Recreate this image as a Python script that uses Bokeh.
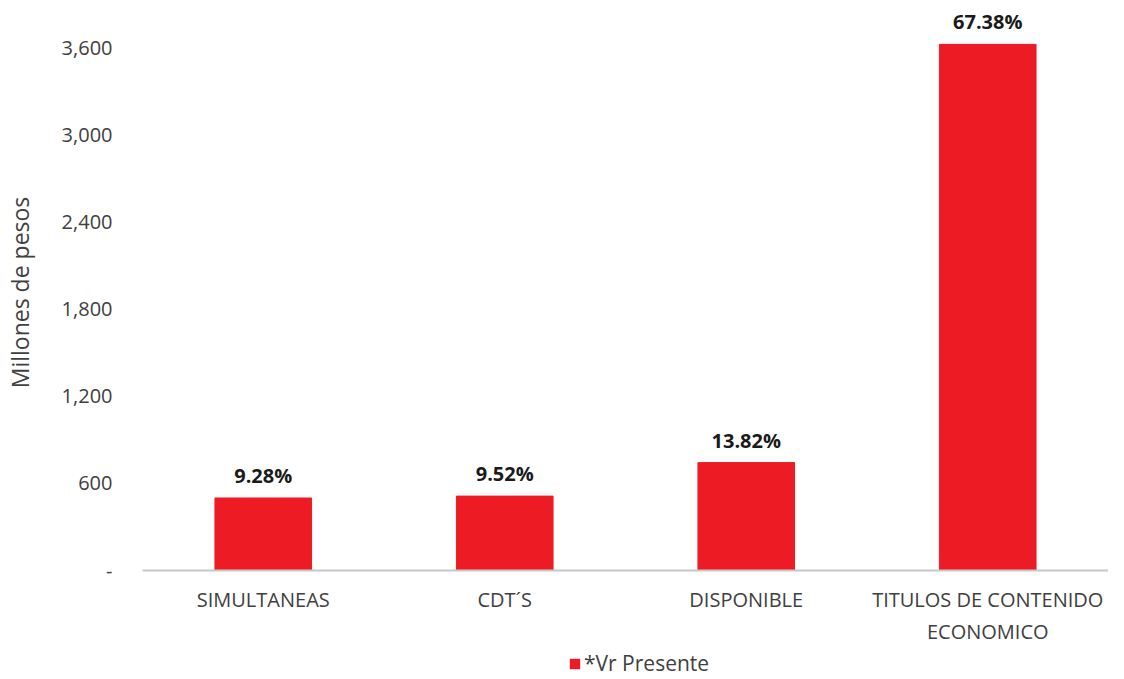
from bokeh.plotting import figure
from bokeh.layouts import column
from bokeh.models import (ColumnDataSource, FixedTicker, NumeralTickFormatter,
                          LabelSet, Legend, LegendItem)
from bokeh.core.properties import value
from bokeh.embed import file_html
from bokeh.resources import INLINE

categories = ["SIMULTANEAS", "CDT´S", "DISPONIBLE", "TITULOS DE CONTENIDO\nECONOMICO"]
values = [500, 513, 744, 3628]
pct_labels = ["9.28%", "9.52%", "13.82%", "67.38%"]
y_ticks = [0, 600, 1200, 1800, 2400, 3000, 3600]
series_name = "*Vr Presente"

RED = "#ED1C24"
FONT = "Open Sans"
GRAY = "#404040"
W = 1108

src = ColumnDataSource(dict(cat=categories, val=values, lab=pct_labels))

p = figure(x_range=categories, y_range=(0, 3834), width=W, height=647,
           output_backend="svg", toolbar_location=None,
           min_border_left=135, min_border_right=0, min_border_top=14,
           min_border_bottom=77)
p.outline_line_color = None
p.xgrid.grid_line_color = None
p.ygrid.grid_line_color = None
p.x_range.range_padding = 0

r = p.vbar(x="cat", top="val", width=0.40, source=src, fill_color=RED,
           line_color=RED)

labels = LabelSet(x="cat", y="val", text="lab", source=src, text_align="center",
                  text_baseline="bottom", y_offset=9, text_font=value(FONT),
                  text_font_style="bold", text_font_size="20px",
                  text_color="#1a1a1a")
p.add_layout(labels)

yax = p.yaxis[0]
yax.ticker = FixedTicker(ticks=y_ticks)
yax.formatter = NumeralTickFormatter(format="0,0")
yax.major_label_overrides = {0: "-"}
yax.axis_line_color = None
yax.major_tick_line_color = None
yax.minor_tick_line_color = None
yax.major_label_text_font = FONT
yax.major_label_text_font_size = "20px"
yax.major_label_text_color = GRAY
yax.major_label_standoff = 24
yax.axis_label = "Millones de pesos"
yax.axis_label_text_font = FONT
yax.axis_label_text_font_style = "normal"
yax.axis_label_text_font_size = "23px"
yax.axis_label_text_color = GRAY
yax.axis_label_standoff = 23

xax = p.xaxis[0]
xax.axis_line_color = "#c8c8c8"
xax.axis_line_width = 2
xax.major_tick_line_color = None
xax.minor_tick_line_color = None
xax.major_label_text_font = FONT
xax.major_label_text_font_size = "20px"
xax.major_label_text_color = GRAY
xax.major_label_standoff = 9

# legend strip below the chart
leg = figure(width=W, height=30, x_range=(0, 1), y_range=(0, 1),
             output_backend="svg", toolbar_location=None,
             x_axis_location=None, y_axis_location=None,
             min_border_left=0, min_border_right=0, min_border_top=0,
             min_border_bottom=0)
leg.grid.visible = False
leg.outline_line_color = None
lr = leg.vbar(x=[0.5], top=[0], bottom=[0], width=0.0, fill_color=RED,
              line_color=None)
legend = Legend(items=[LegendItem(label=series_name, renderers=[lr])],
                location=(426, 0), orientation="horizontal",
                label_text_font=FONT, label_text_font_size="21px",
                label_text_color=GRAY, glyph_width=13, glyph_height=13,
                label_standoff=3, border_line_color=None,
                background_fill_alpha=0, padding=0, margin=0)
leg.add_layout(legend)

layout = column(p, leg, spacing=0)
open("out.html", "w").write(file_html(layout, INLINE))
